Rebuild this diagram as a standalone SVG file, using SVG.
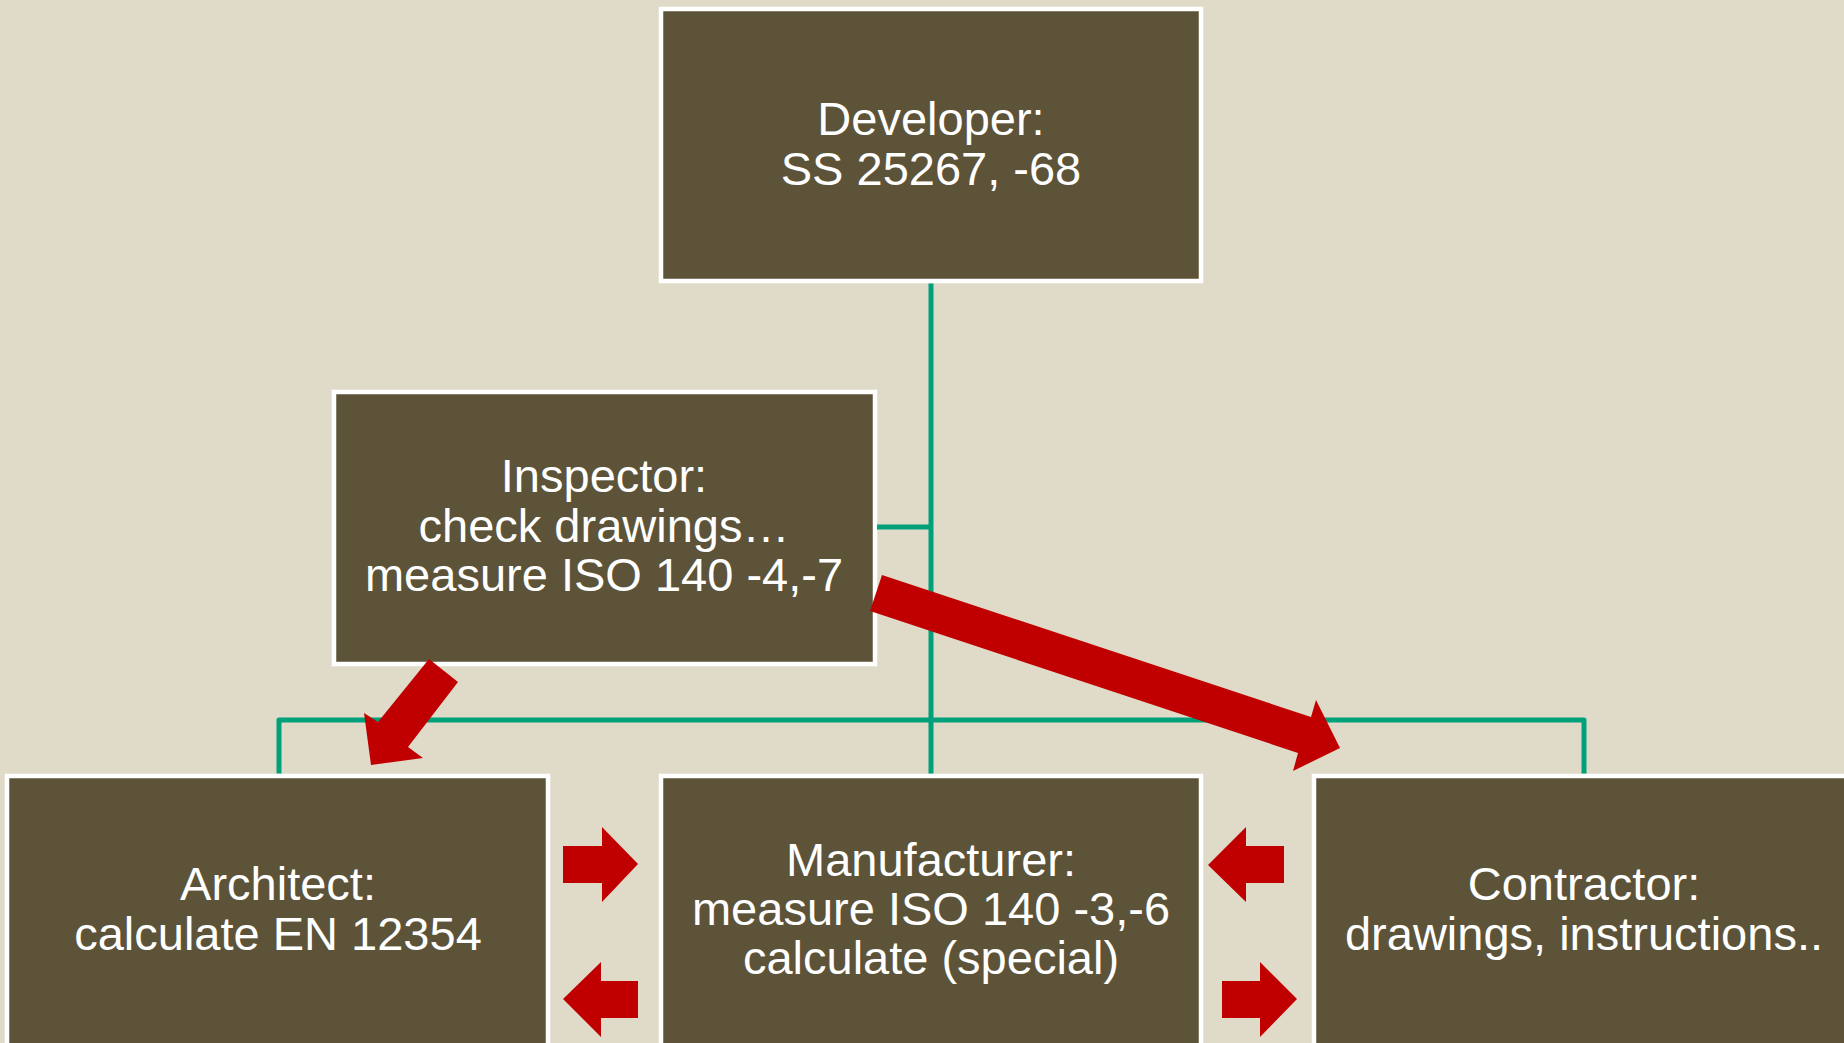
<svg xmlns="http://www.w3.org/2000/svg" width="1844" height="1043" viewBox="0 0 1844 1043">
<style>
.box{fill:#5C5339;stroke:#FFFFFF;stroke-width:4.5}
.t{font-family:"Liberation Sans",Arial,sans-serif;font-size:47px;fill:#FFFFFF;text-anchor:middle}
.ln{fill:none;stroke:#00A07A;stroke-width:5;stroke-linejoin:round}
.ar{fill:#C00000}
</style>
<rect x="0" y="0" width="1844" height="1043" fill="#E0DBC8"/>
<g id="developer">
<rect class="box" x="661" y="9" width="540" height="272"/>
<text class="t" x="931" y="135">Developer:</text>
<text class="t" x="931" y="185">SS 25267, -68</text>
</g>
<g id="inspector">
<rect class="box" x="334" y="392" width="541" height="272"/>
<text class="t" x="604" y="492">Inspector:</text>
<text class="t" x="604" y="542">check drawings…</text>
<text class="t" x="604" y="591">measure ISO 140 -4,-7</text>
</g>
<g id="architect">
<rect class="box" x="7" y="776" width="541" height="300"/>
<text class="t" x="278" y="900">Architect:</text>
<text class="t" x="278" y="950">calculate EN 12354</text>
</g>
<g id="manufacturer">
<rect class="box" x="661" y="776" width="540" height="300"/>
<text class="t" x="931" y="876">Manufacturer:</text>
<text class="t" x="931" y="925">measure ISO 140 -3,-6</text>
<text class="t" x="931" y="974">calculate (special)</text>
</g>
<g id="contractor">
<rect class="box" x="1314" y="776" width="560" height="300"/>
<text class="t" x="1584" y="900">Contractor:</text>
<text class="t" x="1584" y="950">drawings, instructions..</text>
</g>
<g id="connectors">
<path class="ln" d="M931,283.5 V773.5"/>
<path class="ln" d="M877,527 H931"/>
<path class="ln" d="M279,773.5 V720 H1584 V773.5"/>
<polygon class="ar" points="882,575 1311,717 1316,700 1340,748 1293,771 1298,753 870,611"/>
<polygon class="ar" points="429,659 458,682 408,747 423,758 371,765 364,713 378,722"/>
<polygon class="ar" points="563,846 602,846 602,827 638,864 602,902 602,883 563,883"/>
<polygon class="ar" points="638,981 601,981 601,962 563,999 601,1037 601,1018 638,1018"/>
<polygon class="ar" points="1284,846 1246,846 1246,827 1208,865 1246,902 1246,883 1284,883"/>
<polygon class="ar" points="1222,981 1260,981 1260,962 1297,999 1260,1037 1260,1018 1222,1018"/>
</g>
</svg>
